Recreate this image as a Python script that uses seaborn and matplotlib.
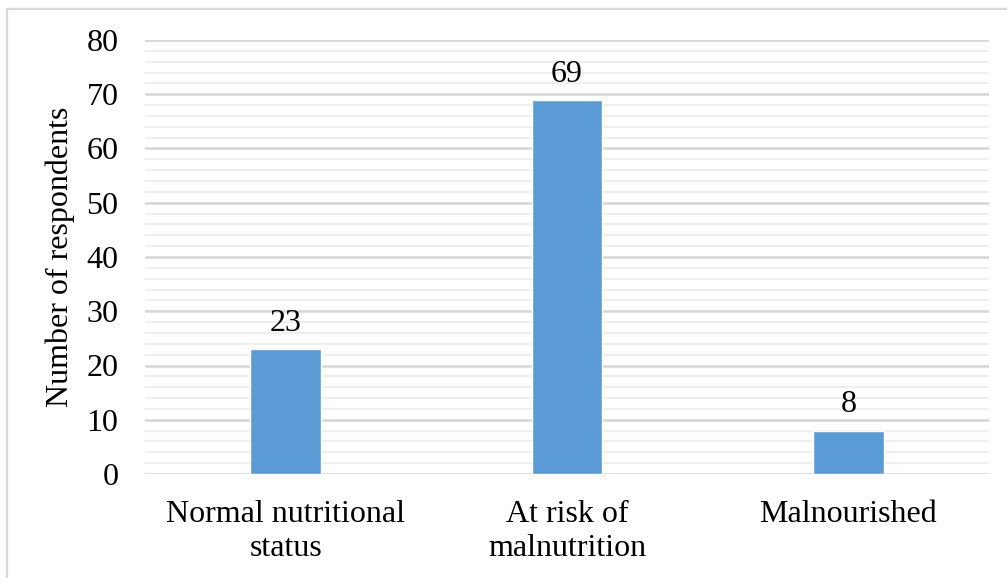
import matplotlib
matplotlib.use("Agg")
import matplotlib.pyplot as plt
from matplotlib.lines import Line2D
from matplotlib.ticker import MultipleLocator
import seaborn as sns
import pandas as pd

categories = ["Normal nutritional\nstatus", "At risk of\nmalnutrition", "Malnourished"]
respondents = [23, 69, 8]
y_ticks = [0, 10, 20, 30, 40, 50, 60, 70, 80]

df = pd.DataFrame({"status": categories, "count": respondents})

sns.set_theme(style="white")
plt.rcParams["font.family"] = ["Liberation Serif", "DejaVu Serif"]

W, H = 1007, 578
fig = plt.figure(figsize=(W / 100, H / 100), dpi=100)
ax = fig.add_axes([145 / W, (H - 474) / H, (989 - 145) / W, (474 - 40) / H])

sns.barplot(data=df, x="status", y="count", color="#5b9bd5", width=0.25,
            saturation=1, ax=ax, zorder=3)

ax.set_ylim(0, 80)
ax.set_xlim(-0.5, 2.5)
ax.set_yticks(y_ticks)
ax.yaxis.set_minor_locator(MultipleLocator(2))
ax.grid(axis="y", which="major", color="#d6d6d6", linewidth=1.8, zorder=0)
ax.grid(axis="y", which="minor", color="#efefef", linewidth=1.6, zorder=0)
ax.grid(axis="x", visible=False)
ax.set_axisbelow(True)

for s in ax.spines.values():
    s.set_visible(False)

ax.tick_params(axis="both", which="both", length=0, labelsize=23, colors="black")
ax.tick_params(axis="y", pad=19)
ax.tick_params(axis="x", pad=19)
ax.set_xlabel("")
ax.set_ylabel("Number of respondents", fontsize=23, labelpad=8, color="black")
for lbl in ax.get_xticklabels():
    lbl.set_linespacing(1.22)

ax.bar_label(ax.containers[0], labels=[str(v) for v in respondents],
             padding=8, fontsize=23, color="black")

# light frame around the chart area
fig.add_artist(Line2D([7 / W, 7 / W], [0, (H - 9) / H], color="#d9d9d9", linewidth=1.6))
fig.add_artist(Line2D([7 / W, 1], [(H - 9) / H, (H - 9) / H], color="#d9d9d9", linewidth=1.6))

fig.savefig("out.png", dpi=100, facecolor="white")
